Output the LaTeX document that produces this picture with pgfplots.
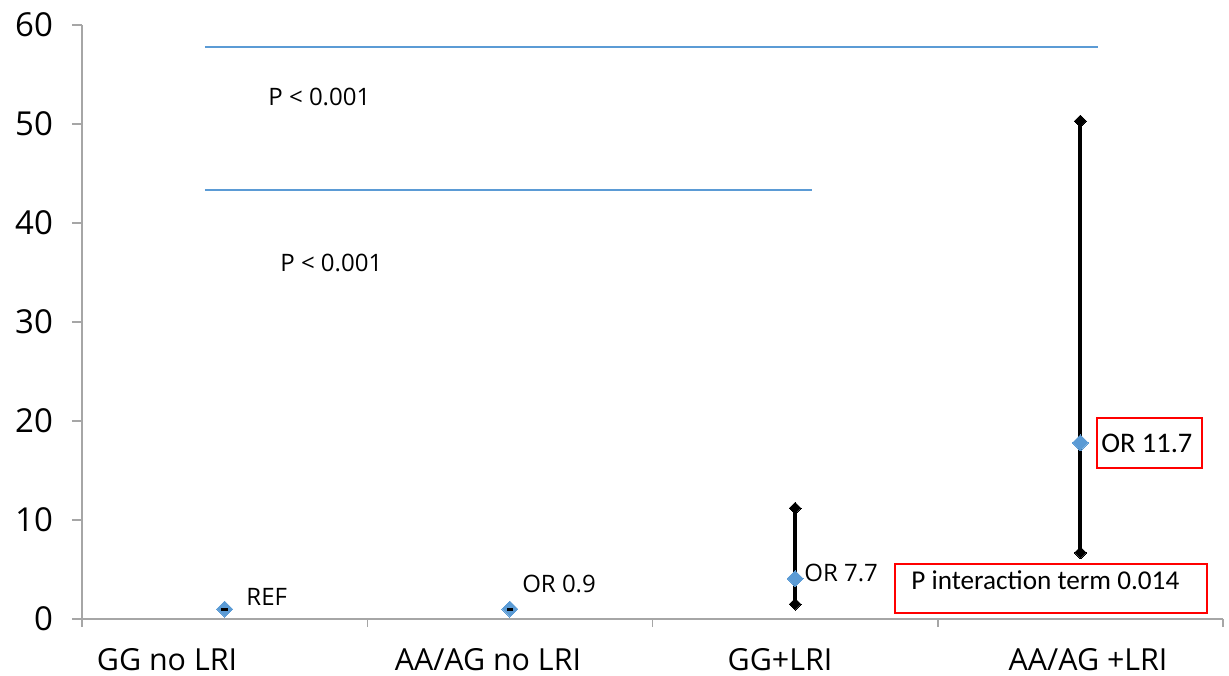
\documentclass[border=0pt]{standalone}
\usepackage{pgfplots}
\pgfplotsset{compat=1.18}
\usepackage{fontspec}
\setmainfont{Open Sans}
\newfontfamily\calibri{Carlito}
\definecolor{ptblue}{HTML}{5B9BD5}
\definecolor{axgray}{HTML}{A6A6A6}
\begin{document}
\begin{tikzpicture}
\begin{axis}[
  scale only axis, width=570.5pt, height=297pt,
  xmin=-0.5, xmax=3.5, ymin=0, ymax=60,
  axis x line*=bottom, axis y line*=left,
  axis line style={axgray, line width=0.75pt},
  xtick={-0.202,0.923,1.947,3.027},
  xticklabels={GG no LRI, AA/AG no LRI, GG+LRI, AA/AG +LRI},
  minor xtick={-0.5,0.5,1.5,2.5,3.5},
  major x tick style={draw=none},
  minor x tick style={axgray, line width=0.75pt},
  ytick={0,10,...,60},
  y tick style={axgray, line width=0.75pt},
  tick align=outside,
  major tick length=5pt, minor tick length=4pt,
  /pgf/number format/assume math mode=true,
  yticklabel style={font=\fontsize{16.5}{19}\selectfont, xshift=-6pt},
  xticklabel style={font=\fontsize{15.2}{18}\selectfont, yshift=-6pt},
  clip=false,
]
% error bars
\addplot[forget plot, draw=none, mark=none,
  error bars/.cd, y dir=both, y explicit,
  error bar style={draw=black, solid, line width=2pt},
  error mark=square*, error mark options={rotate=45, mark size=2.1pt, draw=black, fill=black, line width=0pt}]
  table[x=x, y=y, y error plus=ep, y error minus=em] {
x y ep em
2 4.1 7.1 2.6
3 17.8 32.5 11.1
};
% blue diamonds
\addplot[only marks, mark=square*, mark size=2.83pt,
  mark options={rotate=45, fill=ptblue, draw=ptblue, line width=0pt}]
  table {
x y
0 1.0
1 1.0
2 4.1
3 17.8
};
% small black dashes (degenerate CIs)
\addplot[only marks, mark=-, mark size=1.6pt, mark options={black, line width=1.6pt}]
  table {
x y
0 1.0
1 1.0
};
% significance lines
\addplot[ptblue, line width=1pt] coordinates {(-0.069,57.8) (3.062,57.8)};
\addplot[ptblue, line width=1pt] coordinates {(-0.069,43.3) (2.059,43.3)};
% labels
\node[anchor=west, inner sep=0pt, font=\fontsize{12}{14}\selectfont] at (axis cs:0.152,52.7) {P < 0.001};
\node[anchor=west, inner sep=0pt, font=\fontsize{12}{14}\selectfont] at (axis cs:0.194,36.0) {P < 0.001};
\node[anchor=west, inner sep=0pt, font=\fontsize{12}{14}\selectfont] at (axis cs:0.075,2.2) {REF};
\node[anchor=west, inner sep=0pt, font=\fontsize{12}{14}\selectfont] at (axis cs:1.042,3.5) {OR 0.9};
\node[anchor=west, inner sep=0pt, font=\fontsize{12}{14}\selectfont] at (axis cs:2.031,4.6) {OR 7.7};
\draw[red, line width=0.8pt] (axis cs:3.058,20.3) rectangle (axis cs:3.426,15.25);
\node[anchor=west, inner sep=0pt, font=\calibri\fontsize{14.2}{16}\selectfont] at (axis cs:3.072,17.7) {OR 11.7};
\draw[red, line width=0.8pt] (axis cs:2.35,5.56) rectangle (axis cs:3.444,0.6);
\node[anchor=west, inner sep=0pt, font=\calibri\fontsize{13.6}{16}\selectfont] at (axis cs:2.406,3.9) {P interaction term 0.014};
\end{axis}
\pgfresetboundingbox
\path[use as bounding box] (-41pt,-28pt) rectangle (573.5pt,309.5pt);
\end{tikzpicture}
\end{document}
